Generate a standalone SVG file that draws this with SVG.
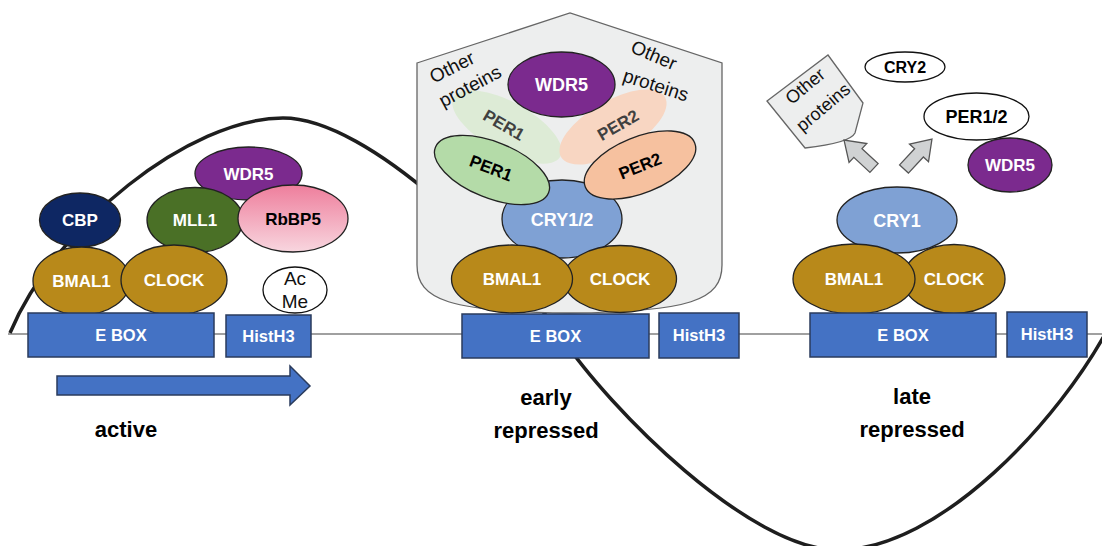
<svg xmlns="http://www.w3.org/2000/svg" width="1102" height="546" viewBox="0 0 1102 546">
<style>
text{font-family:"Liberation Sans",Arial,sans-serif;text-anchor:middle}
.lb{font-weight:bold;font-size:17px;fill:#fff}
.lk{font-weight:bold;font-size:17px;fill:#000}
.lg{font-weight:bold;font-size:17px;fill:#404040}
.op{font-size:19px;fill:#111}
.st{font-weight:bold;font-size:22px;fill:#000}
.box{fill:#4472C4;stroke:#2A3B5C;stroke-width:1.5}
.bt{font-weight:bold;font-size:16.5px;fill:#fff}
.gold{fill:#B8891A;stroke:#222;stroke-width:1.3}
.pur{fill:#7B2A8E;stroke:#222;stroke-width:1.3}
.cry{fill:#7FA1D4;stroke:#222;stroke-width:1.3}
.wht{fill:#fff;stroke:#111;stroke-width:1.3}
.shield{fill:#EDEEEE;stroke:#666;stroke-width:1.3}
.garrow{fill:#D0D2D3;stroke:#555;stroke-width:1.3}
</style>
<defs>
<linearGradient id="pink" x1="0" y1="0" x2="0" y2="1">
<stop offset="0" stop-color="#EE7E9C"/>
<stop offset="1" stop-color="#F8D6DF"/>
</linearGradient>
</defs>

<g id="backdrop">
<line x1="8" y1="334" x2="1102" y2="334" stroke="#A0A0A0" stroke-width="2"/>
<path d="M10,333 C55,225 190,118 283,118 C370,118 510,260 560,335 C610,410 750,550 838,550 C940,550 1060,420 1110,325" fill="none" stroke="#1E1E1E" stroke-width="3.5"/>
</g>

<!-- Panel 1: active -->
<g id="p1-wdr5"><ellipse class="pur" cx="248.5" cy="173.5" rx="53.5" ry="26.5"/><text class="lb" x="248.5" y="179.5">WDR5</text></g>
<g id="p1-mll1"><ellipse cx="195" cy="220" rx="48" ry="32.5" fill="#4A7026" stroke="#222" stroke-width="1.3"/><text class="lb" x="195" y="226">MLL1</text></g>
<g id="p1-rbbp5"><ellipse cx="293" cy="218.5" rx="55" ry="33.5" fill="url(#pink)" stroke="#222" stroke-width="1.3"/><text class="lk" x="293" y="224.5">RbBP5</text></g>
<g id="p1-cbp"><ellipse cx="80" cy="220" rx="40.5" ry="27" fill="#0E2763" stroke="#222" stroke-width="1.3"/><text class="lb" x="80" y="226">CBP</text></g>
<g id="p1-bmal1"><ellipse class="gold" cx="81.5" cy="281" rx="48.5" ry="34"/><text class="lb" x="81.5" y="287">BMAL1</text></g>
<g id="p1-clock"><ellipse class="gold" cx="174" cy="280" rx="53" ry="35"/><text class="lb" x="174" y="286">CLOCK</text></g>
<g id="p1-acme"><ellipse class="wht" cx="295" cy="290" rx="32" ry="23"/><text class="op" x="295" y="285">Ac</text><text class="op" x="295" y="308">Me</text></g>
<g id="p1-ebox"><rect class="box" x="28" y="313" width="186" height="44"/><text class="bt" x="121" y="341">E BOX</text></g>
<g id="p1-histh3"><rect class="box" x="226" y="315" width="85" height="42"/><text class="bt" x="268.5" y="342">HistH3</text></g>
<g id="p1-arrow"><path class="box" d="M57,376 L290,376 L290,366 L310,386 L290,405 L290,395 L57,395 Z"/></g>
<g id="p1-label"><text class="st" x="126" y="437">active</text></g>

<!-- Panel 2: early repressed -->
<g id="p2-complex">
<path class="shield" d="M417,63 L570,13 L722,63 L722,265 C722,300 690,312 570,313 C450,312 417,300 417,265 Z"/>
</g>
<g id="p2-per1-faded"><ellipse cx="507" cy="127" rx="61" ry="25" transform="rotate(29 507 127)" fill="#DDEBD6"/><text class="lg" transform="translate(504,125) rotate(30)" dy="0.35em">PER1</text></g>
<g id="p2-per2-faded"><ellipse cx="613" cy="127" rx="60" ry="26" transform="rotate(-30 613 127)" fill="#F8D6C2"/><text class="lg" transform="translate(618,125) rotate(-30)" dy="0.35em">PER2</text></g>
<g id="p2-other-left"><text class="op" transform="translate(452,67) rotate(-27)" dy="0.35em">Other</text>
<text class="op" transform="translate(470,86) rotate(-28)" dy="0.35em">proteins</text></g>
<g id="p2-other-right"><text class="op" transform="translate(654,55) rotate(23)" dy="0.35em">Other</text>
<text class="op" transform="translate(656,85) rotate(18)" dy="0.35em">proteins</text></g>
<g id="p2-wdr5"><ellipse class="pur" cx="561.5" cy="84.5" rx="53.5" ry="32.5"/><text class="lb" x="561.5" y="91" style="font-size:18px">WDR5</text></g>
<g id="p2-cry12"><ellipse class="cry" cx="562" cy="219" rx="60" ry="39"/><text class="lb" x="562" y="225.5" style="font-size:18px">CRY1/2</text></g>
<g id="p2-per1"><ellipse cx="492" cy="170" rx="61" ry="28" transform="rotate(22 492 170)" fill="#B4DBA8" stroke="#222" stroke-width="1.3"/><text class="lk" transform="translate(491,168) rotate(21)" dy="0.35em">PER1</text></g>
<g id="p2-per2"><ellipse cx="640" cy="165" rx="59" ry="28" transform="rotate(-22 640 165)" fill="#F6C19F" stroke="#222" stroke-width="1.3"/><text class="lk" transform="translate(640,166) rotate(-22)" dy="0.35em">PER2</text></g>
<g id="p2-clock"><ellipse class="gold" cx="620" cy="279" rx="56.5" ry="33.5"/><text class="lb" x="620" y="285">CLOCK</text></g>
<g id="p2-bmal1"><ellipse class="gold" cx="512" cy="279" rx="60.5" ry="34"/><text class="lb" x="512" y="285">BMAL1</text></g>
<g id="p2-ebox"><rect class="box" x="462" y="314" width="187" height="44"/><text class="bt" x="555.5" y="342">E BOX</text></g>
<g id="p2-histh3"><rect class="box" x="659" y="313" width="80" height="45"/><text class="bt" x="699" y="341">HistH3</text></g>
<g id="p2-label"><text class="st" x="546" y="405">early</text><text class="st" x="546" y="438">repressed</text></g>

<!-- Panel 3: late repressed -->
<g id="p3-other"><path class="shield" d="M767,101 L828,55 L863,103 L855,133 Q850,143 805,148 Z"/>
<text class="op" transform="translate(805,86) rotate(-40)" dy="0.35em" style="font-size:18px">Other</text>
<text class="op" transform="translate(823,107) rotate(-40)" dy="0.35em" style="font-size:18px">proteins</text></g>
<g id="p3-cry2"><ellipse class="wht" cx="905" cy="67" rx="40" ry="15"/><text class="lk" x="905" y="72.5" style="font-size:16px">CRY2</text></g>
<g id="p3-per12"><ellipse class="wht" cx="976.5" cy="116.5" rx="52.5" ry="23.5"/><text class="lk" x="976.5" y="123" style="font-size:18px">PER1/2</text></g>
<g id="p3-wdr5"><ellipse class="pur" cx="1010" cy="165" rx="42" ry="27"/><text class="lb" x="1010" y="171">WDR5</text></g>
<g id="p3-cry1"><ellipse class="cry" cx="897" cy="220" rx="60" ry="33"/><text class="lb" x="897" y="226.5" style="font-size:18px">CRY1</text></g>
<g id="p3-clock"><ellipse class="gold" cx="954" cy="279" rx="51" ry="34.5"/><text class="lb" x="954" y="285">CLOCK</text></g>
<g id="p3-bmal1"><ellipse class="gold" cx="854" cy="279" rx="61" ry="35"/><text class="lb" x="854" y="285">BMAL1</text></g>
<g id="p3-ebox"><rect class="box" x="810" y="313" width="186" height="44"/><text class="bt" x="903" y="341">E BOX</text></g>
<g id="p3-histh3"><rect class="box" x="1007" y="312" width="80" height="45"/><text class="bt" x="1047" y="340">HistH3</text></g>
<g id="p3-label"><text class="st" x="912" y="404">late</text><text class="st" x="912" y="437">repressed</text></g>

<g id="connectors">
<path class="garrow" transform="translate(874,168) rotate(-137)" d="M0,-6 L22,-6 L22,-13 L41,0 L22,13 L22,6 L0,6 Z"/>
<path class="garrow" transform="translate(904,169) rotate(-47)" d="M0,-6 L22,-6 L22,-13 L41,0 L22,13 L22,6 L0,6 Z"/>
</g>
</svg>
